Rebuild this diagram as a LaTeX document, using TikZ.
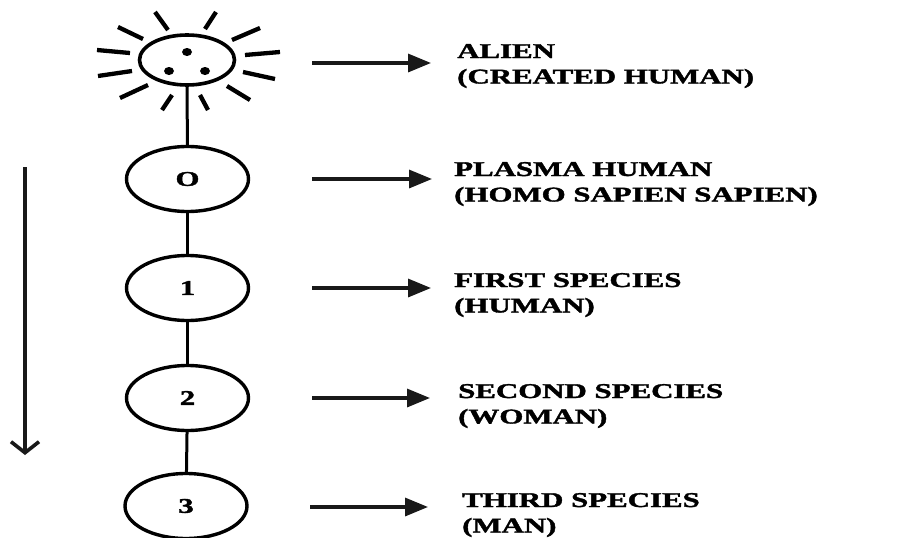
\documentclass[tikz,border=0pt]{standalone}
\usepackage{fontspec}
\setmainfont{Liberation Serif}[BoldFeatures={FakeBold=1.5}]
\usetikzlibrary{shapes.geometric,arrows.meta}
\begin{document}
\begin{tikzpicture}[x=1pt,y=-1pt,
  oval/.style={draw=black,ellipse,line width=3.4pt,minimum width=122pt,minimum height=65pt,inner sep=0pt,
    font=\fontsize{21}{25}\selectfont\bfseries},
  sunoval/.style={draw=black,ellipse,line width=3.6pt,minimum width=95pt,minimum height=50pt,inner sep=0pt},
  stem/.style={line width=3pt,draw=black},
  ray/.style={line width=4.3pt,draw=black},
  rarrow/.style={line width=3.3pt,draw=black!90,-{Triangle[length=23pt,width=18pt]}},
  larrow/.style={line width=3.6pt,draw=black!90,-{Straight Barb[length=11pt,width=28pt,line width=3.6pt]}},
  lbl/.style={anchor=base west,inner sep=0pt,font=\fontsize{21}{25.5}\selectfont\bfseries},
  dot/.style={fill=black,ellipse,inner sep=0pt,minimum width=10pt,minimum height=8pt}
]
\useasboundingbox[fill=white] (0,0) rectangle (914,538);

% sun
\node[sunoval] (sun) at (187,60) {};
\node[dot] (d1) at (187,52) {};
\node[dot] (d2) at (169,71) {};
\node[dot] (d3) at (205,71) {};
\draw[ray] (155,12) -- (168,30);
\draw[ray] (216,12) -- (205,29);
\draw[ray] (118,27) -- (143,39);
\draw[ray] (232,40) -- (260,28);
\draw[ray] (97,50) -- (130,53);
\draw[ray] (245,55) -- (280,52);
\draw[ray] (98,76) -- (132,71);
\draw[ray] (243,72) -- (275,79);
\draw[ray] (120,98) -- (148,85);
\draw[ray] (227,86) -- (250,100);
\draw[ray] (172,95) -- (162,110);
\draw[ray] (200,95) -- (208,110);

% chain
\node[oval] (e0) at (187.5,179) {\scalebox{1.47}[1]{O}};
\node[oval] (e1) at (187.5,288) {\scalebox{1.47}[1]{1}};
\node[oval] (e2) at (187.5,398) {\scalebox{1.47}[1]{2}};
\node[oval] (e3) at (186,506) {\scalebox{1.47}[1]{3}};
\draw[stem] (sun) -- (e0);
\draw[stem] (e0) -- (e1);
\draw[stem] (e1) -- (e2);
\draw[stem] (e2) -- (e3);

% left arrow
\coordinate (ls) at (25,167);
\coordinate (le) at (25,455);
\draw[larrow] (ls) -- (le);

% labels
\node[lbl] (la) at (457,58) {\scalebox{1.47}[1]{\begin{tabular}[t]{@{}l@{}}ALIEN\\(CREATED HUMAN)\end{tabular}}};
\node[lbl] (l0) at (454,176) {\scalebox{1.47}[1]{\begin{tabular}[t]{@{}l@{}}PLASMA HUMAN\\(HOMO SAPIEN SAPIEN)\end{tabular}}};
\node[lbl] (l1) at (454,287) {\scalebox{1.47}[1]{\begin{tabular}[t]{@{}l@{}}FIRST SPECIES\\(HUMAN)\end{tabular}}};
\node[lbl] (l2) at (458,398) {\scalebox{1.47}[1]{\begin{tabular}[t]{@{}l@{}}SECOND SPECIES\\(WOMAN)\end{tabular}}};
\node[lbl] (l3) at (462,507) {\scalebox{1.47}[1]{\begin{tabular}[t]{@{}l@{}}THIRD SPECIES\\(MAN)\end{tabular}}};

% right arrows
\coordinate (as) at (312,63);  \coordinate (ae) at (431,63);
\coordinate (a0) at (312,179); \coordinate (b0) at (432,179);
\coordinate (a1) at (312,288); \coordinate (b1) at (431,288);
\coordinate (a2) at (312,398); \coordinate (b2) at (430,398);
\coordinate (a3) at (310,507); \coordinate (b3) at (428,507);
\draw[rarrow] (as) -- (ae);
\draw[rarrow] (a0) -- (b0);
\draw[rarrow] (a1) -- (b1);
\draw[rarrow] (a2) -- (b2);
\draw[rarrow] (a3) -- (b3);
\end{tikzpicture}
\end{document}
